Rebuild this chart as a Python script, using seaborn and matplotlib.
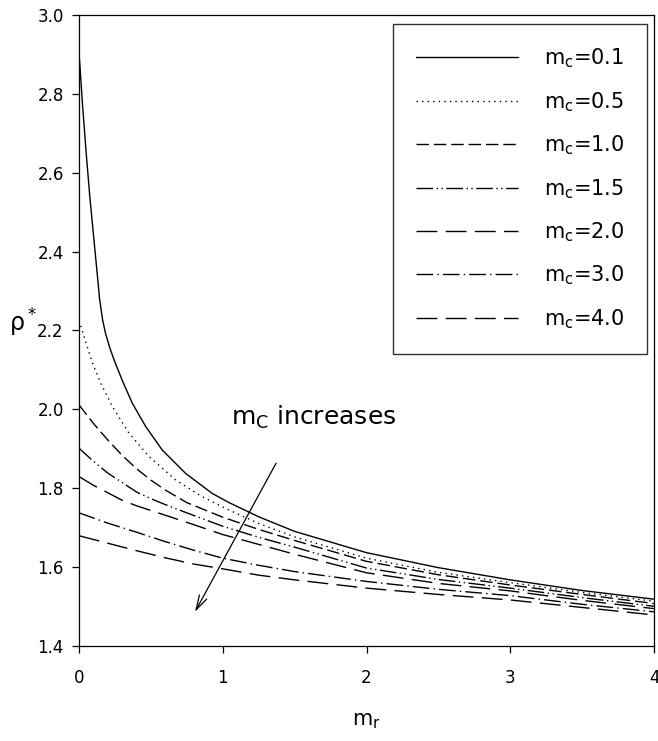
import numpy as np
import pandas as pd
import matplotlib
matplotlib.use("Agg")
import matplotlib.pyplot as plt
import seaborn as sns

# ---- data ----
mc_labels = ["0.1", "0.5", "1.0", "1.5", "2.0", "3.0", "4.0"]

x_01 = [0, 0.025, 0.05, 0.075, 0.1, 0.125, 0.144, 0.165, 0.186, 0.215, 0.244, 0.302, 0.371, 0.464, 0.58, 0.742, 0.928, 1.044, 1.25, 1.5, 2.0, 2.5, 3.0, 3.5, 4.0]
y_01 = [2.905, 2.77, 2.65, 2.54, 2.445, 2.35, 2.277, 2.225, 2.19, 2.155, 2.125, 2.072, 2.015, 1.956, 1.896, 1.837, 1.786, 1.763, 1.727, 1.69, 1.636, 1.598, 1.567, 1.54, 1.518]

x_05 = [0, 0.046, 0.093, 0.151, 0.232, 0.348, 0.487, 0.673, 0.858, 1.021, 1.25, 1.5, 2.0, 2.5, 3.0, 3.5, 4.0]
y_05 = [2.225, 2.172, 2.118, 2.066, 2.007, 1.939, 1.880, 1.820, 1.778, 1.748, 1.71, 1.676, 1.622, 1.586, 1.56, 1.535, 1.513]

x_10 = [0, 0.1, 0.2, 0.3, 0.4, 0.5, 0.6, 0.75, 1.0, 1.25, 1.5, 2.0, 2.5, 3.0, 3.5, 4.0]
y_10 = [2.011, 1.964, 1.922, 1.883, 1.849, 1.82, 1.795, 1.763, 1.726, 1.695, 1.667, 1.614, 1.58, 1.554, 1.53, 1.507]

x_15 = [0, 0.1, 0.2, 0.3, 0.4, 0.5, 0.6, 0.75, 1.0, 1.25, 1.5, 2.0, 2.5, 3.0, 3.5, 4.0]
y_15 = [1.901, 1.868, 1.838, 1.814, 1.79, 1.773, 1.758, 1.737, 1.703, 1.675, 1.65, 1.597, 1.568, 1.546, 1.522, 1.5]

x_20 = [0, 0.1, 0.2, 0.3, 0.4, 0.5, 0.6, 0.75, 1.0, 1.25, 1.5, 2.0, 2.5, 3.0, 3.5, 4.0]
y_20 = [1.829, 1.807, 1.788, 1.769, 1.755, 1.743, 1.731, 1.713, 1.682, 1.657, 1.632, 1.585, 1.558, 1.539, 1.515, 1.494]

x_30 = [0, 0.2, 0.4, 0.6, 0.8, 1.0, 1.25, 1.5, 2.0, 2.5, 3.0, 3.5, 4.0]
y_30 = [1.737, 1.711, 1.688, 1.664, 1.642, 1.622, 1.604, 1.588, 1.563, 1.543, 1.527, 1.505, 1.486]

x_40 = [0, 0.2, 0.4, 0.6, 0.8, 1.0, 1.25, 1.5, 2.0, 2.5, 3.0, 3.5, 4.0]
y_40 = [1.679, 1.66, 1.641, 1.623, 1.607, 1.595, 1.579, 1.567, 1.546, 1.53, 1.516, 1.497, 1.478]

x_ticks = [0, 1, 2, 3, 4]
y_ticks = [1.4, 1.6, 1.8, 2.0, 2.2, 2.4, 2.6, 2.8, 3.0]

# ---- build long-form table ----
xs = [x_01, x_05, x_10, x_15, x_20, x_30, x_40]
ys = [y_01, y_05, y_10, y_15, y_20, y_30, y_40]
labels = [r"$\mathregular{m_c}$=" + m for m in mc_labels]
frames = []
for lab, xx, yy in zip(labels, xs, ys):
    frames.append(pd.DataFrame({"m_r": xx, "rho": yy, "series": lab}))
df = pd.concat(frames, ignore_index=True)

dash_specs = ["", (1, 3), (9, 3.5), (12, 2.5, 1, 2.5, 1, 2.5), (15, 6), (12, 3, 1, 3), (15, 6)]
dashes = dict(zip(labels, dash_specs))

sns.set_theme(style="white")
plt.rcParams["font.family"] = ["DejaVu Sans"]
plt.rcParams["mathtext.fontset"] = "dejavusans"
plt.rcParams["text.color"] = "black"
plt.rcParams["axes.labelcolor"] = "black"
plt.rcParams["xtick.color"] = "black"
plt.rcParams["ytick.color"] = "black"

fig = plt.figure(figsize=(6.58, 7.41), dpi=100)
ax = fig.add_axes([79 / 658, 1 - 645.7 / 741, 575 / 658, 630.7 / 741])

sns.lineplot(data=df, x="m_r", y="rho", hue="series", style="series",
             hue_order=labels, style_order=labels,
             palette=["black"] * len(labels), dashes=dashes,
             linewidth=1.0, estimator=None, sort=False, ax=ax, legend=True)

ax.set_xlim(0, 4)
ax.set_ylim(1.4, 3.0)
ax.set_xticks(x_ticks)
ax.set_xticklabels([str(t) for t in x_ticks])
ax.set_yticks(y_ticks)
ax.set_yticklabels([f"{t:.1f}" for t in y_ticks])
ax.tick_params(axis="both", which="major", direction="out", length=5, width=0.9,
               labelsize=12, colors="black", bottom=True, left=True, top=False, right=False)
ax.tick_params(axis="x", pad=12)
ax.tick_params(axis="y", pad=6)
for s in ax.spines.values():
    s.set_visible(True)
    s.set_color("black")
    s.set_linewidth(0.9)

ax.set_xlabel(r"$\mathregular{m_r}$", fontsize=15, labelpad=17, color="black")
ax.set_ylabel(r"$\mathregular{\rho^*}$", fontsize=17, rotation=0, color="black")
ax.yaxis.label.set_va("center")
ax.yaxis.set_label_coords(-0.097, 0.512)

# legend
old = ax.get_legend()
handles = old.legend_handles
texts = [t.get_text() for t in old.get_texts()]
old.remove()
leg = ax.legend(handles, texts, loc="upper right", bbox_to_anchor=(0.988, 0.986),
                borderaxespad=0, fontsize=15, frameon=True, fancybox=False,
                handlelength=4.9, handletextpad=1.25, labelspacing=0.95,
                borderpad=1.1, labelcolor="black")
leg.get_frame().set_edgecolor("black")
leg.get_frame().set_linewidth(1.0)
for h in leg.legend_handles:
    h.set_color("black")
    h.set_linewidth(1.0)

# annotation
ax.annotate("", xy=(0.807, 1.486), xytext=(1.371, 1.863),
            arrowprops=dict(arrowstyle="->,head_length=0.7,head_width=0.2",
                            lw=0.9, color="black", shrinkA=0, shrinkB=0,
                            mutation_scale=15))
ax.text(1.635, 1.978, r"$\mathregular{m_C}$ increases", fontsize=18,
        ha="center", va="center", color="black")

fig.savefig("out.png", dpi=100)
